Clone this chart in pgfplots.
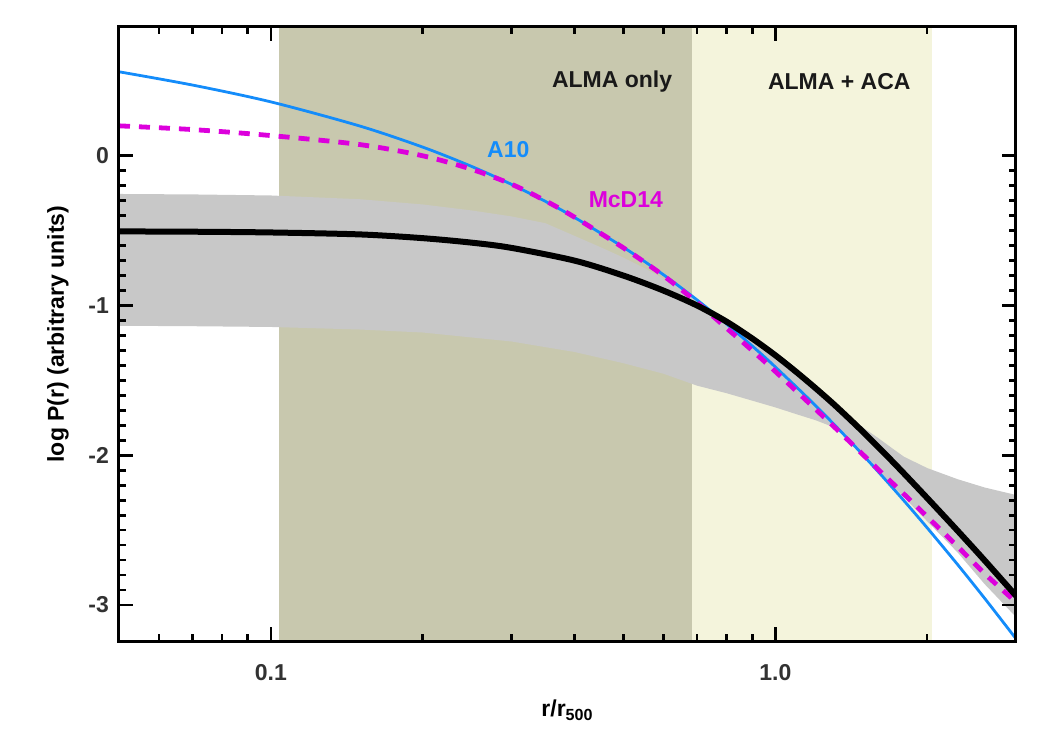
\documentclass[border=0pt]{standalone}
\usepackage{pgfplots}
\pgfplotsset{compat=1.18}
\usepackage{fontspec}
\setmainfont{Liberation Sans}
\definecolor{khaki}{RGB}{200,200,174}
\definecolor{lightk}{RGB}{244,244,220}
\definecolor{band}{RGB}{200,200,200}
\definecolor{aten}{RGB}{20,140,250}
\definecolor{mcd}{RGB}{220,0,220}
\definecolor{tickc}{RGB}{50,50,50}
\begin{document}
\begin{tikzpicture}
\useasboundingbox (-59.5pt,-54.5pt) rectangle (465.5pt,320.5pt);
\begin{axis}[
  at={(0,0)}, anchor=south west,
  scale only axis, width=448.5pt, height=307pt,
  xmode=log, xmin=0.05, xmax=3.0, ymin=-3.24, ymax=0.86,
  xtick={0.1,1}, xticklabels={0.1,1.0},
  minor xtick={0.06,0.07,0.08,0.09,0.2,0.3,0.4,0.5,0.6,0.7,0.8,0.9,2,3},
  ytick={-3,-2,-1,0}, yticklabels={-3,-2,-1,0},
  minor y tick num=9,
  major tick length=7pt, minor tick length=3.5pt,
  tick style={line width=1.3pt, black},
  axis line style={line width=1.5pt},
  axis on top,
  ticklabel style={font=\bfseries\fontsize{11.5}{13}\selectfont, text=tickc},
  xticklabel style={yshift=-8pt},
  yticklabel style={xshift=-1.5pt},
  every axis x label/.style={at={(axis description cs:0.5,0)}, yshift=-34.5pt, anchor=center},
  every axis y label/.style={at={(axis description cs:0,0.5)}, xshift=-30.5pt, anchor=center, rotate=90},
  xlabel={\bfseries\fontsize{11.5}{13}\selectfont r/r\textsubscript{500}},
  ylabel={\bfseries\fontsize{11.5}{13}\selectfont log P(r) (arbitrary units)},
  clip=true,
]
% shaded regions
\addplot[fill=khaki, draw=none] coordinates {(0.104,-4) (0.104,1) (0.684,1) (0.684,-4)} -- cycle;
\addplot[fill=lightk, draw=none] coordinates {(0.684,-4) (0.684,1) (2.04,1) (2.04,-4)} -- cycle;
% uncertainty band
\addplot[fill=band, draw=none] coordinates {
(0.05,-0.255) (0.07,-0.258) (0.1,-0.265) (0.15,-0.29) (0.2,-0.325) (0.25,-0.365) (0.3,-0.405) (0.35,-0.45) (0.4,-0.535) (0.45,-0.61) (0.5,-0.68) (0.55,-0.75) (0.6,-0.82) (0.65,-0.89) (0.7,-0.975) (0.8,-1.085) (0.9,-1.198) (1.0,-1.31) (1.1,-1.42) (1.2,-1.53) (1.3,-1.635) (1.4,-1.735) (1.5,-1.82) (1.6,-1.885) (1.7,-1.95) (1.8,-2.01) (2.0,-2.085) (2.3,-2.16) (2.6,-2.215) (3.0,-2.265)
(3.0,-3.08) (2.6,-2.86) (2.3,-2.65) (2.0,-2.44) (1.8,-2.28) (1.6,-2.11) (1.4,-1.91) (1.35,-1.84) (1.3,-1.81) (1.2,-1.765) (1.1,-1.725) (1.0,-1.68) (0.9,-1.635) (0.8,-1.585) (0.7,-1.535) (0.6,-1.455) (0.5,-1.385) (0.4,-1.31) (0.3,-1.24) (0.2,-1.18) (0.15,-1.16) (0.1,-1.143) (0.07,-1.138) (0.05,-1.135)
} -- cycle;
% A10
\addplot[aten, line width=1.4pt, smooth] coordinates {
(0.05,0.561) (0.07,0.472) (0.1,0.360) (0.15,0.199) (0.2,0.058) (0.25,-0.071) (0.3,-0.191) (0.35,-0.304) (0.4,-0.412) (0.5,-0.611) (0.6,-0.794) (0.7,-0.963) (0.8,-1.122) (0.9,-1.270) (1.0,-1.410) (1.2,-1.666) (1.4,-1.898) (1.6,-2.110) (1.8,-2.304) (2.0,-2.484) (2.3,-2.731) (2.6,-2.955) (3.0,-3.225)
};
% McD14
\addplot[mcd, line width=2.4pt, smooth, dash pattern=on 5.5pt off 4.5pt] coordinates {
(0.05,0.20) (0.07,0.175) (0.1,0.135) (0.15,0.075) (0.2,0.0) (0.25,-0.09) (0.3,-0.19) (0.35,-0.30) (0.4,-0.41) (0.5,-0.615) (0.6,-0.80) (0.7,-0.98) (0.8,-1.15) (0.9,-1.30) (1.0,-1.44) (1.2,-1.69) (1.4,-1.905) (1.6,-2.095) (1.8,-2.26) (2.0,-2.41) (2.3,-2.61) (2.6,-2.79) (3.0,-2.98)
};
% best fit
\addplot[black, line width=3pt, smooth] coordinates {
(0.05,-0.505) (0.07,-0.507) (0.1,-0.512) (0.15,-0.525) (0.2,-0.55) (0.25,-0.58) (0.3,-0.615) (0.4,-0.70) (0.5,-0.80) (0.6,-0.90) (0.7,-1.00) (0.8,-1.107) (0.9,-1.220) (1.0,-1.332) (1.1,-1.443) (1.2,-1.550) (1.3,-1.653) (1.4,-1.754) (1.5,-1.851) (1.6,-1.945) (1.7,-2.035) (1.8,-2.122) (2.0,-2.285) (2.3,-2.505) (2.6,-2.702) (3.0,-2.938)
};
\node[anchor=east, font=\bfseries\fontsize{11.5}{13}\selectfont, text=black!90] at (axis cs:0.645,0.494) {ALMA only};
\node[anchor=east, font=\bfseries\fontsize{11.5}{13}\selectfont, text=black!90] at (axis cs:1.915,0.494) {ALMA + ACA};
\node[anchor=west, inner sep=0pt, font=\bfseries\fontsize{11.5}{13}\selectfont, text=aten] at (axis cs:0.268,0.04) {A10};
\node[anchor=west, inner sep=0pt, font=\bfseries\fontsize{11.5}{13}\selectfont, text=mcd] at (axis cs:0.426,-0.29) {McD14};
\end{axis}
\end{tikzpicture}
\end{document}
